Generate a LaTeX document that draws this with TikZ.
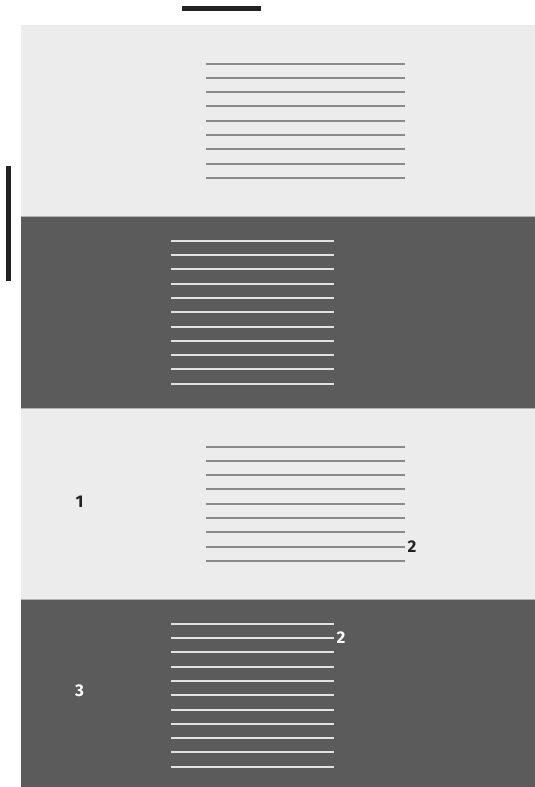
\documentclass[tikz,border=0pt]{standalone}
\usepackage{fontspec}
\setmainfont{Fira Sans}
\usepackage{tikz}
\definecolor{pagelight}{HTML}{ECECEC}
\definecolor{pagedark}{HTML}{5B5B5B}
\definecolor{rulegrey}{HTML}{8A8A8A}
\definecolor{rulelight}{HTML}{E2E2E2}
\definecolor{markblack}{HTML}{222222}

\begin{document}
\begin{tikzpicture}[
    x=0.3mm, y=-0.3mm,
    lightpanel/.style={fill=pagelight},
    darkpanel/.style={fill=pagedark},
    seam/.style={draw=gray!60, line width=0.2mm},
    greyrule/.style={draw=rulegrey, line width=0.6mm},
    whiterule/.style={draw=rulelight, line width=0.6mm},
    markbar/.style={draw=markblack, line width=1.35mm},
    numlabel/.style={font=\bfseries\fontsize{14.5}{16}\selectfont, inner sep=1.2pt},
]
\useasboundingbox (0,0) rectangle (535,787);

% ---- Marker bars ----
\draw[markbar] (182,8.5) -- (261,8.5);
\draw[markbar] (8.5,166) -- (8.5,281);

% ---- Panels ----
\path[lightpanel] (21,25)    rectangle (540,216.5);
\path[darkpanel]  (21,216.5) rectangle (540,408);
\path[lightpanel] (21,408)   rectangle (540,599.5);
\path[darkpanel]  (21,599.5) rectangle (540,791);
\draw[seam] (21,216.5) -- (540,216.5);
\draw[seam] (21,408)   -- (540,408);
\draw[seam] (21,599.5) -- (540,599.5);

% ---- Text lines ----
\foreach \i in {0,...,8}
    \draw[greyrule] (206,63.55+14.3*\i) -- (405,63.55+14.3*\i);
\foreach \i in {0,...,10}
    \draw[whiterule] (171,240.75+14.3*\i) -- (334,240.75+14.3*\i);
\foreach \i in {0,...,8}
    \draw[greyrule] (206,446.55+14.3*\i) -- (405,446.55+14.3*\i);
\foreach \i in {0,...,10}
    \draw[whiterule] (171,623.75+14.3*\i) -- (334,623.75+14.3*\i);

% ---- Labels ----
\node[numlabel, text=markblack] (one)    at (79.5,501.7) {1};
\node[numlabel, text=markblack, anchor=west] (twoa) at (406,546.65) {2};
\node[numlabel, text=white] (three)      at (79.5,690.5) {3};
\node[numlabel, text=white, anchor=west] (twob)     at (335,638.05) {2};
\end{tikzpicture}
\end{document}
